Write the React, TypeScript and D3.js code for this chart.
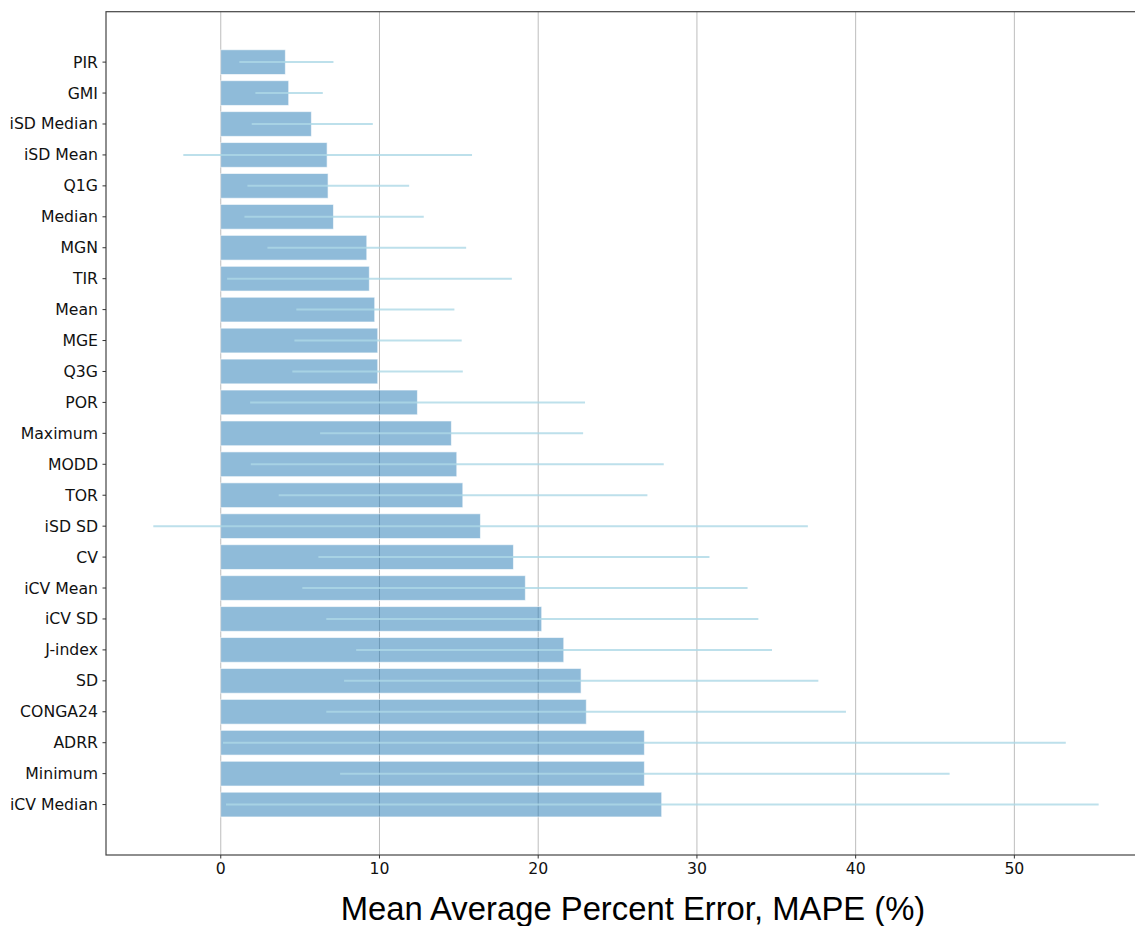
import React, { useEffect, useRef } from 'react';
import * as d3 from 'd3';

// metrics, top to bottom
const metrics = [
  'PIR', 'GMI', 'iSD Median', 'iSD Mean', 'Q1G', 'Median', 'MGN', 'TIR', 'Mean', 'MGE',
  'Q3G', 'POR', 'Maximum', 'MODD', 'TOR', 'iSD SD', 'CV', 'iCV Mean', 'iCV SD', 'J-index',
  'SD', 'CONGA24', 'ADRR', 'Minimum', 'iCV Median',
];
const mape = [
  4.07, 4.28, 5.71, 6.7, 6.76, 7.1, 9.2, 9.36, 9.7, 9.89,
  9.89, 12.39, 14.53, 14.87, 15.25, 16.36, 18.44, 19.19, 20.22, 21.61,
  22.7, 23.03, 26.69, 26.69, 27.78,
];
const errLow = [
  1.17, 2.18, 1.95, -2.36, 1.68, 1.49, 2.94, 0.4, 4.76, 4.64,
  4.51, 1.85, 6.26, 1.89, 3.65, -4.25, 6.15, 5.14, 6.65, 8.53,
  7.77, 6.65, 0.14, 7.52, 0.33,
];
const errHigh = [
  7.1, 6.43, 9.58, 15.83, 11.87, 12.79, 15.46, 18.34, 14.72, 15.18,
  15.25, 22.95, 22.83, 27.91, 26.88, 36.99, 30.79, 33.19, 33.87, 34.73,
  37.65, 39.39, 53.24, 45.92, 55.31,
];
const xTicks = [0, 10, 20, 30, 40, 50];

const W = 1135;
const H = 926;

const App = () => {
  const svgRef = useRef<SVGSVGElement>(null);

  useEffect(() => {
    const svg = d3.select(svgRef.current);
    svg.selectAll('*').remove();

    const left = 106, right = 1135, top = 11.7, bottom = 855;
    const x = d3.scaleLinear().domain([-7.23, 57.6]).range([left, right]);
    const y = d3.scaleLinear().domain([-1.63, 25.63]).range([top, bottom]);
    const bh = y(0.4) - y(-0.4);

    // grid
    svg.append('g')
      .selectAll('line')
      .data(xTicks)
      .enter()
      .append('line')
      .attr('x1', (d) => x(d))
      .attr('x2', (d) => x(d))
      .attr('y1', top)
      .attr('y2', bottom)
      .attr('stroke', '#bdbdbd')
      .attr('stroke-width', 1);

    // bars
    svg.append('g')
      .selectAll('rect')
      .data(mape)
      .enter()
      .append('rect')
      .attr('x', x(0))
      .attr('y', (d, i) => y(i) - bh / 2)
      .attr('width', (d) => x(d) - x(0))
      .attr('height', bh)
      .attr('fill', '#1f77b4')
      .attr('fill-opacity', 0.5)
      .attr('stroke', '#ffffff')
      .attr('stroke-opacity', 0.6)
      .attr('stroke-width', 1);

    // error lines
    svg.append('g')
      .selectAll('line')
      .data(metrics)
      .enter()
      .append('line')
      .attr('x1', (d, i) => x(errLow[i]))
      .attr('x2', (d, i) => x(errHigh[i]))
      .attr('y1', (d, i) => y(i))
      .attr('y2', (d, i) => y(i))
      .attr('stroke', '#add8e6')
      .attr('stroke-opacity', 0.8)
      .attr('stroke-width', 2);

    // spines
    svg.append('rect')
      .attr('x', left)
      .attr('y', top)
      .attr('width', right - left + 2)
      .attr('height', bottom - top)
      .attr('fill', 'none')
      .attr('stroke', '#444')
      .attr('stroke-width', 1.2);

    // y axis labels
    const ya = svg.append('g');
    metrics.forEach((m, i) => {
      ya.append('line')
        .attr('x1', left - 3.5)
        .attr('x2', left)
        .attr('y1', y(i))
        .attr('y2', y(i))
        .attr('stroke', '#333');
      ya.append('text')
        .attr('x', left - 8)
        .attr('y', y(i))
        .attr('dy', '0.35em')
        .attr('text-anchor', 'end')
        .attr('font-family', 'DejaVu Sans')
        .attr('font-size', 15.7)
        .attr('fill', '#111')
        .text(m);
    });

    // x axis labels
    const xa = svg.append('g');
    xTicks.forEach((t) => {
      xa.append('line')
        .attr('x1', x(t))
        .attr('x2', x(t))
        .attr('y1', bottom)
        .attr('y2', bottom + 3.5)
        .attr('stroke', '#333');
      xa.append('text')
        .attr('x', x(t))
        .attr('y', bottom + 19)
        .attr('text-anchor', 'middle')
        .attr('font-family', 'DejaVu Sans')
        .attr('font-size', 15.7)
        .attr('fill', '#111')
        .text(t);
    });

    svg.append('text')
      .attr('x', 633)
      .attr('y', 920)
      .attr('text-anchor', 'middle')
      .attr('font-family', 'Liberation Sans, Arial, sans-serif')
      .attr('font-size', 32.8)
      .attr('fill', '#000')
      .text('Mean Average Percent Error, MAPE (%)');
  }, []);

  return (
    <svg
      ref={svgRef}
      width={W}
      height={H}
      style={{ position: 'absolute', left: 0, top: 0, background: '#fff' }}
    />
  );
};

export default App;
